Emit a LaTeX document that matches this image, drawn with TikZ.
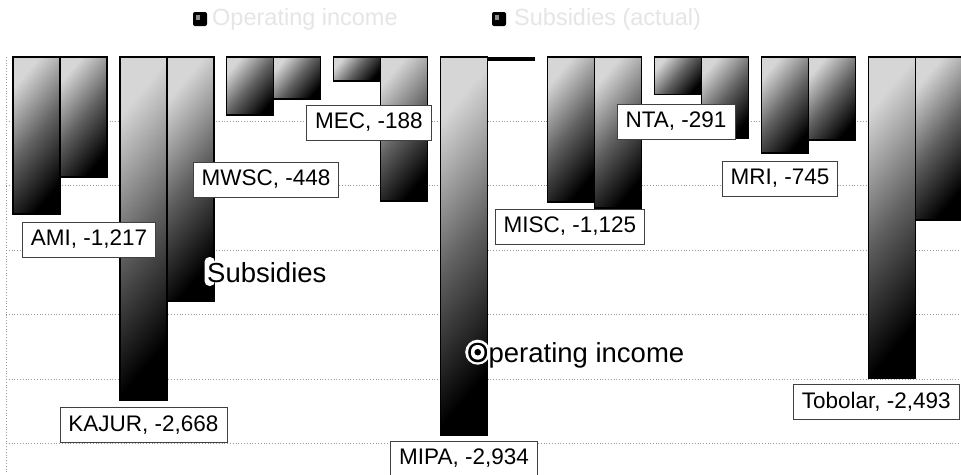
\documentclass[tikz,border=0pt]{standalone}
\usepackage{fontspec}
\setmainfont{Liberation Sans}
\tikzset{
  bar/.style={draw=black, line width=1.3pt, top color=black!16, bottom color=black, middle color=black!62, shading angle=50},
  lbl/.style={draw=black!75, line width=0.8pt, fill=white, font=\fontsize{22.5}{27}\selectfont, inner xsep=8.5pt, inner ysep=0pt, minimum height=35pt},
  gridline/.style={black!40, dotted, line width=0.8pt},
  big/.style={font=\fontsize{27.5}{32}\selectfont, inner sep=0pt},
  leg/.style={font=\fontsize{23.5}{28}\selectfont, text=black!10, inner sep=0pt},
  legmark/.style={fill=black, rounded corners=2pt},
}
\begin{document}
\begin{tikzpicture}[x=1pt, y=-1pt]
\useasboundingbox (0,0) rectangle (961,474);
\clip (0,0) rectangle (961,474);
% grid
\foreach \g in {121.4,185.8,250.3,314.7,379.1,443.5}{\draw[gridline] (6,\g) -- (961,\g);}
\draw[gridline] (6,57) -- (6,474);
% legend
\fill[legmark] (193,12) rectangle (207,26);
\fill[black!45] (196,15) rectangle (200,20);
\node[leg, anchor=west] (leg1) at (212,19) {Operating income};
\fill[legmark] (492,12) rectangle (506,26);
\fill[black!45] (495,15) rectangle (499,20);
\node[leg, anchor=west] (leg2) at (514,19) {Subsidies (actual)};
% bars: index / operating income bottom / subsidies bottom
\foreach \i/\a/\b in {0/214/177, 1/400/301, 2/115/99, 3/81/201, 5/202/208, 6/94.5/138, 7/153/140, 8/378/220}{
  \pgfmathsetmacro\xa{13+106.9*\i}
  \pgfmathsetmacro\xb{\xa+47}
  \pgfmathsetmacro\xc{\xa+94}
  \shade[bar] (\xa,57) rectangle (\xb,\a);
  \shade[bar] (\xb,57) rectangle (\xc,\b);
}
\shade[bar] (440.6,57) rectangle (487.6,435);
\fill[black] (487.6,56.5) rectangle (534.6,61);
% data labels
\node[lbl] (ami) at (89,239.5) {AMI, -1,217};
\node[lbl] (kajur) at (143.5,425) {KAJUR, -2,668};
\node[lbl] (mwsc) at (266,179.5) {MWSC, -448};
\node[lbl] (mec) at (369,122.5) {MEC, -188};
\node[lbl] (mipa) at (464,458.5) {MIPA, -2,934};
\node[lbl] (misc) at (570,226.5) {MISC, -1,125};
\node[lbl] (nta) at (676,121.5) {NTA, -291};
\node[lbl] (mri) at (780,178.5) {MRI, -745};
\node[lbl, anchor=west] (tobolar) at (793,401.5) {Tobolar, -2,493};
% series labels with white halo where they cross the bars
\fill[white, rounded corners=5pt] (204.5,257) rectangle (215,286);
\node[big, anchor=base west] (subs) at (207,282) {Subsidies};
\fill[white] (477.7,352.2) circle (12.5);
\node[big, anchor=base west] (opinc) at (467,362) {Operating income};
\draw[black, line width=1.6pt] (477.7,352.2) circle (8.4);
\fill[black] (477.7,352.2) circle (3.3);
\end{tikzpicture}
\end{document}
